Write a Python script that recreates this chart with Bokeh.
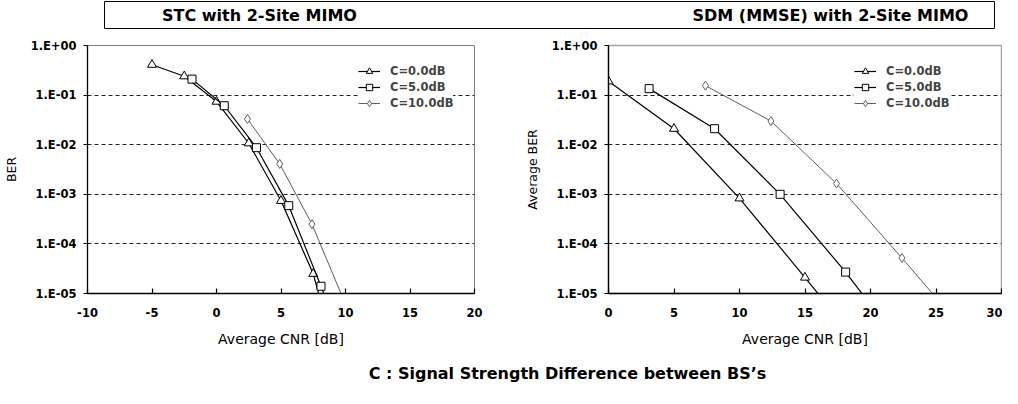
from bokeh.plotting import figure
from bokeh.layouts import column, row
from bokeh.models import Range1d, FixedTicker, Legend, LegendItem, Label
from bokeh.embed import file_html
from bokeh.resources import INLINE

# ---------------- data ----------------
series_labels = ["C=0.0dB", "C=5.0dB", "C=10.0dB"]

# STC with 2-Site MIMO
stc_c0_x = [-5, -2.5, 0, 2.5, 5, 7.5, 10]
stc_c0_y = [0.41, 0.24, 0.074, 0.0107, 7.4e-4, 2.5e-5, 1e-7]
stc_c5_x = [-1.9, 0.6, 3.1, 5.6, 8.1, 10.6]
stc_c5_y = [0.21, 0.061, 0.0087, 5.9e-4, 1.4e-5, 3e-7]
stc_c10_x = [2.4, 4.9, 7.4, 9.9]
stc_c10_y = [0.033, 0.0041, 2.5e-4, 7e-6]

# SDM (MMSE) with 2-Site MIMO
sdm_c0_x = [0, 5, 10, 15, 20]
sdm_c0_y = [0.19, 0.021, 8.3e-4, 2.1e-5, 5e-7]
sdm_c5_x = [3.1, 8.1, 13.1, 18.1, 23.1]
sdm_c5_y = [0.135, 0.021, 1.0e-3, 2.7e-5, 5e-7]
sdm_c10_x = [7.4, 12.4, 17.4, 22.4, 27.4]
sdm_c10_y = [0.155, 0.030, 1.65e-3, 5.2e-5, 1.5e-6]

y_ticks = [1e-5, 1e-4, 1e-3, 1e-2, 1e-1, 1e0]
y_tick_labels = ["1.E-05", "1.E-04", "1.E-03", "1.E-02", "1.E-01", "1.E+00"]
stc_x_ticks = [-10, -5, 0, 5, 10, 15, 20]
stc_x_tick_labels = ["-10", "-5", "0", "5", "10", "15", "20"]
sdm_x_ticks = [0, 5, 10, 15, 20, 25, 30]
sdm_x_tick_labels = ["0", "5", "10", "15", "20", "25", "30"]

title_left = "STC with 2-Site MIMO"
title_right = "SDM (MMSE) with 2-Site MIMO"
caption = "C : Signal Strength Difference between BS\u2019s"

FONT = "DejaVu Sans"
styles = [
    dict(color="black", width=1.2, marker="triangle", size=9),
    dict(color="black", width=1.2, marker="square", size=8),
    dict(color="#606060", width=1.0, marker="diamond", size=9),
]


def make_plot(series, x_ticks, x_labels, xr, ylabel, width, mbl, mbr, legend_xy):
    p = figure(width=width, height=317, x_range=Range1d(*xr),
               y_range=Range1d(1e-5, 1.0), y_axis_type="log",
               toolbar_location=None, output_backend="svg",
               min_border_left=mbl, min_border_right=mbr,
               min_border_top=9, min_border_bottom=60)
    p.outline_line_color = "#808080"
    p.outline_line_width = 1
    p.background_fill_color = "white"
    p.border_fill_color = "white"
    p.xgrid.visible = False
    p.ygrid.ticker = FixedTicker(ticks=y_ticks[1:-1])
    p.ygrid.grid_line_color = "#222222"
    p.ygrid.grid_line_dash = "4 3"
    p.ygrid.grid_line_width = 1

    p.yaxis.ticker = FixedTicker(ticks=y_ticks)
    p.yaxis.major_label_overrides = dict(zip(y_ticks, y_tick_labels))
    p.xaxis.ticker = FixedTicker(ticks=x_ticks)
    p.xaxis.major_label_overrides = dict(zip(x_ticks, x_labels))
    for ax in (p.xaxis[0], p.yaxis[0]):
        ax.axis_line_color = "black"
        ax.axis_line_width = 1.3
        ax.major_tick_line_color = "black"
        ax.major_tick_line_width = 1.2
        ax.minor_tick_line_color = None
        ax.major_label_text_font = FONT
        ax.major_label_text_font_style = "bold"
        ax.major_label_text_font_size = "11.5px"
        ax.major_label_text_color = "black"
        ax.axis_label_text_font = FONT
        ax.axis_label_text_font_style = "normal"
        ax.axis_label_text_color = "black"
    p.xaxis.axis_label_text_font_size = "14px"
    p.yaxis.axis_label_text_font_size = "12.5px"
    p.xaxis.major_tick_in = 5
    p.xaxis.major_tick_out = 0
    p.xaxis.major_label_standoff = 14
    p.xaxis.axis_label = "Average CNR [dB]"
    p.xaxis.axis_label_standoff = 11
    p.yaxis.major_tick_in = 0
    p.yaxis.major_tick_out = 4
    p.yaxis.major_label_standoff = 7
    p.yaxis.axis_label = ylabel
    p.yaxis.axis_label_standoff = 9

    items = []
    for (xs, ys), st, lab in zip(series, styles, series_labels):
        lr = p.line(xs, ys, line_color=st["color"], line_width=st["width"])
        sr = p.scatter(xs, ys, marker=st["marker"], size=st["size"],
                       fill_color="white", line_color=st["color"], line_width=1)
        items.append(LegendItem(label=lab, renderers=[lr, sr]))
    leg = Legend(items=items, location=legend_xy)
    leg.label_text_font = FONT
    leg.label_text_font_style = "bold"
    leg.label_text_font_size = "11.5px"
    leg.glyph_width = 22
    leg.glyph_height = 16
    leg.label_height = 16
    leg.label_standoff = 10
    leg.spacing = 0
    leg.padding = 4
    leg.margin = 0
    leg.border_line_color = None
    leg.background_fill_color = "white"
    leg.background_fill_alpha = 1.0
    p.add_layout(leg)
    return p


left = make_plot([(stc_c0_x, stc_c0_y), (stc_c5_x, stc_c5_y), (stc_c10_x, stc_c10_y)],
                 stc_x_ticks, stc_x_tick_labels, (-10, 20), "BER", 492, 84, 18, (271, 182))
right = make_plot([(sdm_c0_x, sdm_c0_y), (sdm_c5_x, sdm_c5_y), (sdm_c10_x, sdm_c10_y)],
                  sdm_x_ticks, sdm_x_tick_labels, (0, 30), "Average BER", 510, 116, 1, (246, 182))
right.outline_line_color = "#a0a0a0"
right.outline_line_width = 1.5

# title band
top = figure(width=1002, height=36, x_range=Range1d(0, 1002), y_range=Range1d(36, 0),
             toolbar_location=None, output_backend="svg", min_border=0)
top.axis.visible = False
top.grid.visible = False
top.outline_line_color = None
top.quad(left=104, right=994, top=1, bottom=28, fill_color=None, line_color="black", line_width=1)
for tx, txt in ((259, title_left), (830, title_right)):
    top.add_layout(Label(x=tx, y=15, text=txt, text_align="center", text_baseline="middle",
                         text_font=FONT, text_font_style="bold", text_font_size="16px",
                         text_color="black"))

# caption band
bottom = figure(width=1002, height=35, x_range=Range1d(0, 1002), y_range=Range1d(35, 0),
                toolbar_location=None, output_backend="svg", min_border=0)
bottom.axis.visible = False
bottom.grid.visible = False
bottom.outline_line_color = None
bottom.add_layout(Label(x=567, y=20, text=caption, text_align="center", text_baseline="middle",
                        text_font=FONT, text_font_style="bold", text_font_size="16px",
                        text_color="black"))

layout = column(top, row(left, right), bottom)
open("out.html", "w").write(file_html(layout, INLINE))
